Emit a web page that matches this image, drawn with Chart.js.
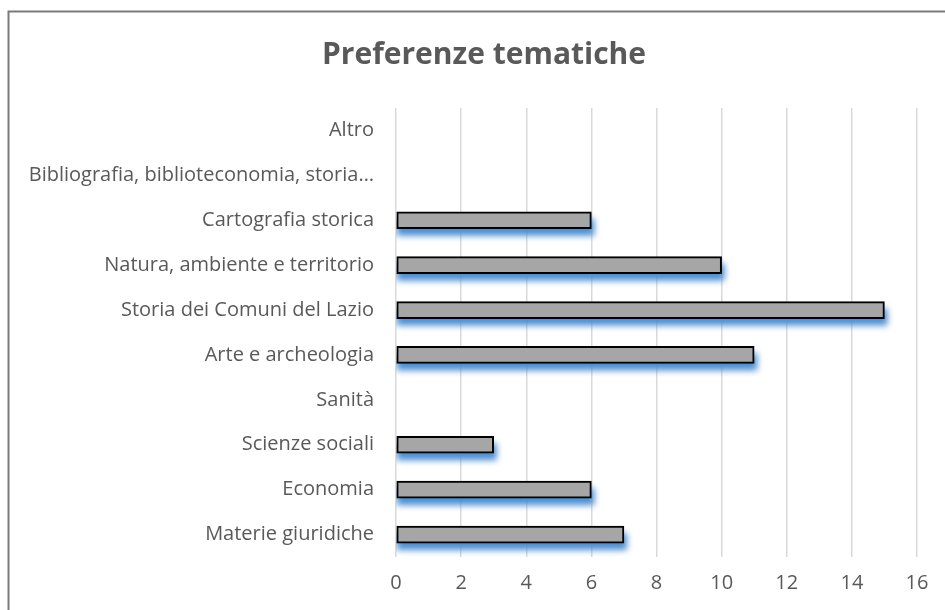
<!DOCTYPE html>
<html>
<head>
<meta charset="utf-8">
<script src="https://cdn.jsdelivr.net/npm/chart.js@4"></script>
<style>
  body { margin: 0; background: #fff; }
  #wrap { position: relative; width: 945px; height: 610px; }
</style>
</head>
<body>
<div id="wrap"><canvas id="chart" width="945" height="610"></canvas></div>
<script>
// data
const categories = [
  'Altro',
  'Bibliografia, biblioteconomia, storia…',
  'Cartografia storica',
  'Natura, ambiente e territorio',
  'Storia dei Comuni del Lazio',
  'Arte e archeologia',
  'Sanità',
  'Scienze sociali',
  'Economia',
  'Materie giuridiche'
];
const counts = [0, 0, 6, 10, 15, 11, 0, 3, 6, 7];
const xMin = 0, xMax = 16, xStep = 2;
const chartTitle = 'Preferenze tematiche';

const textColor = '#595959';
const fontFamily = '"Open Sans", Lato, sans-serif';

// frame of the chart box (left and top edges show in the crop) and the title,
// which is centred on the whole box, wider than this crop
const framePlugin = {
  id: 'frame',
  beforeDraw(chart) {
    const ctx = chart.ctx;
    ctx.save();
    ctx.strokeStyle = '#7a7a7a';
    ctx.lineWidth = 2;
    ctx.beginPath();
    ctx.moveTo(8.5, chart.height);
    ctx.lineTo(8.5, 11.5);
    ctx.lineTo(chart.width, 11.5);
    ctx.stroke();

    ctx.fillStyle = textColor;
    ctx.font = 'bold 30px ' + fontFamily;
    ctx.textAlign = 'center';
    ctx.textBaseline = 'middle';
    ctx.fillText(chartTitle, 484, 55);
    ctx.restore();
  }
};

// blurred blue shadow below each bar, from the bar elements' own geometry
const shadowPlugin = {
  id: 'barShadow',
  beforeDatasetsDraw(chart) {
    const ctx = chart.ctx;
    const area = chart.chartArea;
    const meta = chart.getDatasetMeta(0);
    ctx.save();
    ctx.beginPath();
    ctx.rect(area.left, area.top, area.right - area.left + 20, area.bottom - area.top + 20);
    ctx.clip();
    ctx.filter = 'blur(3px)';
    ctx.fillStyle = '#4a8fd3';
    meta.data.forEach((bar, i) => {
      if (!counts[i]) return;
      const p = bar.getProps(['x', 'y', 'base', 'height'], true);
      ctx.fillRect(p.base, p.y - p.height / 2 + 7, p.x - p.base + 3, p.height);
    });
    ctx.restore();
  }
};

new Chart(document.getElementById('chart'), {
  type: 'bar',
  data: {
    labels: categories,
    datasets: [{
      data: counts,
      backgroundColor: '#a6a6a6',
      borderColor: '#000000',
      borderWidth: 2,
      borderSkipped: false,
      barThickness: 17
    }]
  },
  options: {
    indexAxis: 'y',
    responsive: false,
    animation: false,
    layout: { padding: { left: 10, right: 28, top: 108, bottom: 13 } },
    plugins: {
      legend: { display: false },
      tooltip: { enabled: false },
      title: { display: false }
    },
    scales: {
      x: {
        min: xMin,
        max: xMax,
        afterFit(scale) { scale.height = 40; },
        ticks: {
          stepSize: xStep,
          maxRotation: 0,
          color: textColor,
          font: { family: fontFamily, size: 20 },
          padding: 14
        },
        grid: { color: '#d9d9d9', lineWidth: 1.5, drawTicks: false },
        border: { display: false }
      },
      y: {
        afterFit(scale) { scale.width = 386; },
        ticks: {
          color: textColor,
          font: { family: fontFamily, size: 20 },
          padding: 22
        },
        grid: { display: false, drawTicks: false },
        border: { display: false }
      }
    }
  },
  plugins: [framePlugin, shadowPlugin]
});
</script>
</body>
</html>
